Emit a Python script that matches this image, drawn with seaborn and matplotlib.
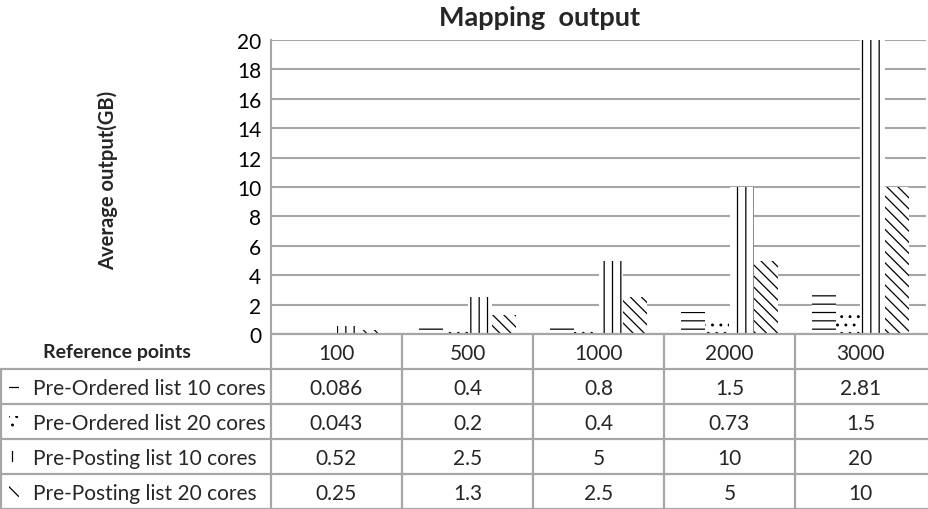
import pandas as pd
import matplotlib
matplotlib.use('Agg')
import matplotlib.pyplot as plt
from matplotlib.patches import Rectangle
import seaborn as sns

# --- data ---
categories = ['100', '500', '1000', '2000', '3000']
series_names = ['Pre-Ordered list 10 cores', 'Pre-Ordered list 20 cores',
                'Pre-Posting list 10 cores', 'Pre-Posting list 20 cores']
ordered_10 = [0.086, 0.4, 0.8, 1.5, 2.81]
ordered_20 = [0.043, 0.2, 0.4, 0.73, 1.5]
posting_10 = [0.52, 2.5, 5, 10, 20]
posting_20 = [0.25, 1.3, 2.5, 5, 10]
y_ticks = list(range(0, 21, 2))

all_values = [ordered_10, ordered_20, posting_10, posting_20]
hatches = ['--', '..', '||', '\\\\\\']

rows = []
for name, vals in zip(series_names, all_values):
    for cat, v in zip(categories, vals):
        rows.append({'points': cat, 'value': v, 'series': name})
df = pd.DataFrame(rows)

sns.set_theme(style='white')
plt.rcParams['font.family'] = ['Lato', 'DejaVu Sans']
plt.rcParams['hatch.linewidth'] = 0.9

GRID = '#a6a6a6'
W, H = 929, 510
FS = 15

fig = plt.figure(figsize=(W / 100, H / 100), dpi=100)
# plot area in pixels: x 271..926, y 41..335
ax = fig.add_axes([271 / W, 1 - 335 / H, 655 / W, 294 / H])

sns.barplot(data=df, x='points', y='value', hue='series', order=categories,
            hue_order=series_names, palette={s: 'white' for s in series_names},
            width=0.74, gap=0, edgecolor='black', linewidth=0, saturation=1,
            errorbar=None, legend=False, ax=ax)

for cont, h in zip(ax.containers, hatches):
    for p in cont.patches:
        p.set_hatch(h)

ax.set_xlim(-0.5, len(categories) - 0.5)
ax.set_ylim(0, 20)
ax.set_yticks(y_ticks)
ax.set_xlabel('')
ax.set_ylabel('')
ax.tick_params(axis='x', length=0, labelbottom=False)
ax.tick_params(axis='y', length=0, pad=7, labelsize=FS, colors='black')
ax.yaxis.grid(True, color=GRID, lw=1.5)
ax.set_axisbelow(True)
for side in ['top', 'right', 'bottom']:
    ax.spines[side].set_visible(False)
ax.spines['left'].set_color(GRID)
ax.spines['left'].set_linewidth(1.5)

fig.text(540 / W, 1 - 18 / H, 'Mapping  output', ha='center', va='center',
         fontsize=19.5, fontweight='bold')
fig.text(108 / W, 1 - 180 / H, 'Average output(GB)', ha='center', va='center',
         rotation=90, fontsize=14.5, fontweight='bold')

# --- data table under the plot, sharing the category positions ---
px_per_cat = 655 / len(categories)
x_left = -0.5 - 271 / px_per_cat
x_right = len(categories) - 0.5 + 3 / px_per_cat
tax = fig.add_axes([0, 0, 1, (H - 335) / H])
tax.set_xlim(x_left, x_right)
n_rows = len(series_names) + 1
tax.set_ylim(n_rows, 0)
tax.axis('off')

lw = 1.6
last = len(categories) - 0.5
# horizontal rules
tax.plot([-0.5, last + 0.05], [0, 0], color=GRID, lw=lw, clip_on=False)
for r in range(1, n_rows + 1):
    tax.plot([x_left + 1 / px_per_cat, last + 0.05], [r, r], color=GRID, lw=lw, clip_on=False)
# vertical rules
tax.plot([x_left + 1 / px_per_cat] * 2, [1, n_rows], color=GRID, lw=lw, clip_on=False)
for i in range(len(categories)):
    tax.plot([i - 0.5, i - 0.5], [0, n_rows], color=GRID, lw=lw, clip_on=False)

tax.text(x_left + 117 / px_per_cat, 0.5, 'Reference points', ha='center', va='center',
         fontsize=14, fontweight='bold')
for i, cat in enumerate(categories):
    tax.text(i, 0.55, cat, ha='center', va='center', fontsize=FS)

for r, (name, vals, h) in enumerate(zip(series_names, all_values, hatches), start=1):
    tax.add_patch(Rectangle((x_left + 9 / px_per_cat, r + 0.35), 10 / px_per_cat, 0.3,
                            facecolor='white', edgecolor='black', lw=0, hatch=h))
    tax.text(x_left + 33 / px_per_cat, r + 0.55, name, ha='left', va='center', fontsize=FS)
    for i, v in enumerate(vals):
        tax.text(i, r + 0.55, f'{v:g}', ha='center', va='center', fontsize=FS)

fig.savefig('out.png', dpi=100)
